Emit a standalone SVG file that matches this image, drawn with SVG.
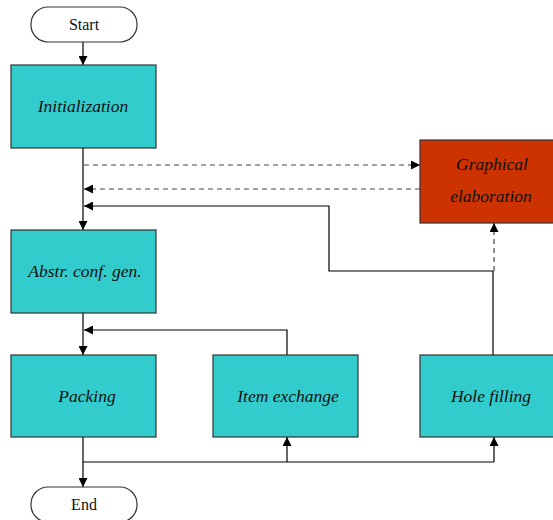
<svg xmlns="http://www.w3.org/2000/svg" width="553" height="520" viewBox="0 0 553 520">
<defs>
<marker id="ah" viewBox="0 0 10 10" refX="10" refY="5" markerWidth="9" markerHeight="9" markerUnits="userSpaceOnUse" orient="auto"><path d="M0,0 L10,5 L0,10 z" fill="#000"/></marker>
</defs>
<style>
.box{fill:#33CCCC;stroke:#333;stroke-width:1.2}
.red{fill:#CC3300;stroke:#333;stroke-width:1.2}
.term{fill:#fff;stroke:#333;stroke-width:1.2}
.lbl{font-family:"Liberation Serif",serif;font-style:italic;font-size:17.5px;fill:#111;text-anchor:middle}
.tl{font-family:"Liberation Serif",serif;font-size:16px;fill:#111;text-anchor:middle}
.c{fill:none;stroke:#000;stroke-width:1.2}
.d{fill:none;stroke:#444;stroke-width:1.2;stroke-dasharray:5,4}
</style>
<rect width="553" height="520" fill="#fff"/>
<g id="connectors">
<path class="c" d="M83,42 V65" marker-end="url(#ah)"/>
<path class="c" d="M83,148 V230" marker-end="url(#ah)"/>
<path class="d" d="M84,165 H420" marker-end="url(#ah)"/>
<path class="d" d="M420,189 H84" marker-end="url(#ah)"/>
<path class="c" d="M493,355 V271 H329 V206 H84" marker-end="url(#ah)"/>
<path class="d" d="M494,271 V223" marker-end="url(#ah)"/>
<path class="c" d="M83,313 V355" marker-end="url(#ah)"/>
<path class="c" d="M287,355 V330 H84" marker-end="url(#ah)"/>
<path class="c" d="M83,437 V487" marker-end="url(#ah)"/>
<path class="c" d="M83,462 H494"/>
<path class="c" d="M287,462 V437" marker-end="url(#ah)"/>
<path class="c" d="M494,462 V437" marker-end="url(#ah)"/>
</g>
<g id="start"><rect class="term" x="31" y="7" width="106" height="35" rx="17" ry="17"/><text class="tl" x="84" y="30">Start</text></g>
<g id="init"><rect class="box" x="11" y="65" width="145" height="83"/><text class="lbl" x="83" y="112">Initialization</text></g>
<g id="abstr"><rect class="box" x="11" y="230" width="145" height="83"/><text class="lbl" x="85" y="277">Abstr. conf. gen.</text></g>
<g id="packing"><rect class="box" x="11" y="355" width="145" height="82"/><text class="lbl" x="87" y="402">Packing</text></g>
<g id="item"><rect class="box" x="213" y="355" width="145" height="82"/><text class="lbl" x="288" y="402">Item exchange</text></g>
<g id="hole"><rect class="box" x="420" y="355" width="145" height="82"/><text class="lbl" x="491" y="402">Hole filling</text></g>
<g id="graph"><rect class="red" x="420" y="140" width="145" height="83"/><text class="lbl" x="492" y="170">Graphical</text><text class="lbl" x="491" y="202">elaboration</text></g>
<g id="end"><rect class="term" x="31" y="487" width="106" height="35" rx="17" ry="17"/><text class="tl" x="84" y="510">End</text></g>
</svg>
